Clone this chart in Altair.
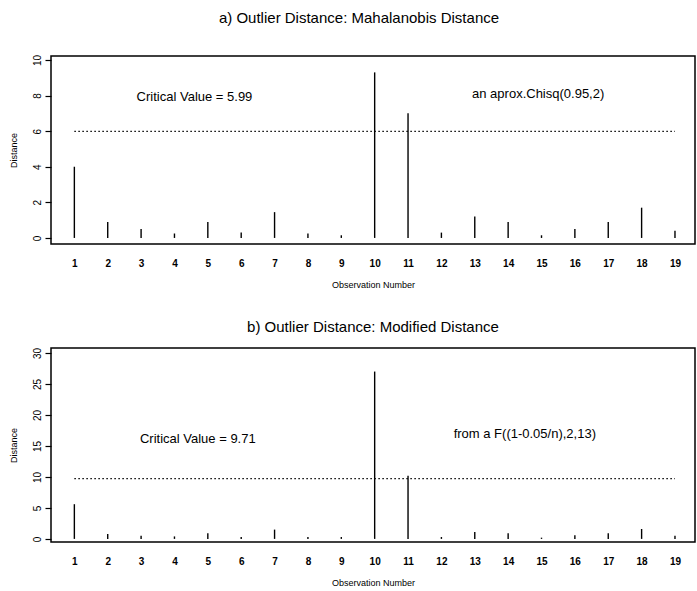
import altair as alt
import pandas as pd

# ---- data ----
obs = list(range(1, 20))
mahal = [4.0, 0.9, 0.5, 0.25, 0.9, 0.3, 1.45, 0.25, 0.15, 9.3, 7.0,
         0.3, 1.2, 0.9, 0.15, 0.5, 0.9, 1.7, 0.4]
modified = [5.6, 0.8, 0.5, 0.4, 0.9, 0.3, 1.5, 0.3, 0.3, 27.0, 10.2,
            0.3, 1.1, 0.9, 0.2, 0.6, 0.9, 1.6, 0.5]
crit_a = 5.99
crit_b = 9.71
ticks_a = [0, 2, 4, 6, 8, 10]
ticks_b = [0, 5, 10, 15, 20, 25, 30]
title_a = "a) Outlier Distance: Mahalanobis Distance"
title_b = "b) Outlier Distance: Modified Distance"
notes_a = ["Critical Value = 5.99", "an aprox.Chisq(0.95,2)"]
notes_b = ["Critical Value = 9.71", "from a F((1-0.05/n),2,13)"]
note_x_a = [4.6, 14.9]
note_y_a = [7.9, 8.1]
note_x_b = [4.7, 14.5]
note_y_b = [16.1, 16.9]

FONT = "Liberation Sans"
XDOM = [0.3, 19.6]


def panel(values, crit, ydom, yticks, title, notes, nx, ny, height, title_offset, title_dx):
    df = pd.DataFrame({"obs": obs, "value": values, "base": [0] * len(obs)})
    xscale = alt.Scale(domain=XDOM, nice=False, zero=False)
    yscale = alt.Scale(domain=ydom, nice=False, zero=False)
    xaxis = alt.Axis(values=obs, ticks=False, tickSize=0, domain=False, grid=False,
                     labelPadding=14, labelFontSize=10, labelFontWeight="bold",
                     labelFont=FONT, labelOverlap=False,
                     titleFontSize=9, titleFontWeight="normal", titleFont=FONT,
                     titlePadding=12, labelFlush=False)
    yaxis = alt.Axis(values=yticks, tickSize=6, domain=False, grid=False,
                     labelAngle=270, labelAlign="center", labelBaseline="bottom",
                     labelPadding=3, labelFontSize=10, labelFont=FONT, labelOverlap=False,
                     titleFontSize=9, titleFontWeight="normal",
                     titleFont=FONT, titlePadding=14, labelFlush=False)
    bars = alt.Chart(df).mark_rule(color="black", strokeWidth=1.4).encode(
        x=alt.X("obs:Q", scale=xscale, axis=xaxis, title="Observation Number"),
        y=alt.Y("value:Q", scale=yscale, axis=yaxis, title="Distance"),
        y2="base:Q",
    )
    cdf = pd.DataFrame({"x1": [1], "x2": [19], "y": [crit]})
    crit_line = alt.Chart(cdf).mark_rule(color="black", strokeWidth=1.3,
                                         strokeDash=[1.5, 2.5]).encode(
        x=alt.X("x1:Q", scale=xscale, axis=xaxis, title="Observation Number"), x2="x2:Q",
        y=alt.Y("y:Q", scale=yscale, axis=yaxis, title="Distance"))
    tdf = pd.DataFrame({"x": nx, "y": ny, "label": notes})
    txt = alt.Chart(tdf).mark_text(font=FONT, fontSize=13, color="black",
                                   align="center", baseline="middle").encode(
        x=alt.X("x:Q", scale=xscale, axis=xaxis, title="Observation Number"),
        y=alt.Y("y:Q", scale=yscale, axis=yaxis, title="Distance"), text="label:N")
    return alt.layer(bars, crit_line, txt).properties(
        width=644, height=height,
        title=alt.TitleParams(title, fontSize=15, fontWeight="normal", font=FONT,
                              anchor="middle", offset=title_offset, dx=title_dx,
                              color="black"),
    )


pa = panel(mahal, crit_a, [-0.34, 10.22], ticks_a, title_a, notes_a,
           note_x_a, note_y_a, 188, 28, -14)
pb = panel(modified, crit_b, [-0.5, 30.8], ticks_b, title_b, notes_b,
           note_x_b, note_y_b, 194, 12, 0)

chart = alt.vconcat(pa, pb, spacing=29).properties(
    padding={"left": 8, "top": 10, "right": 0, "bottom": 0},
    background="white",
).configure_view(stroke="black", strokeWidth=1.5).configure_axis(
    labelColor="black", tickColor="black", titleColor="black", tickWidth=1.2,
    labelOverlap=False
)

chart.save("out.html", embed_options={"renderer": "svg", "actions": False})
